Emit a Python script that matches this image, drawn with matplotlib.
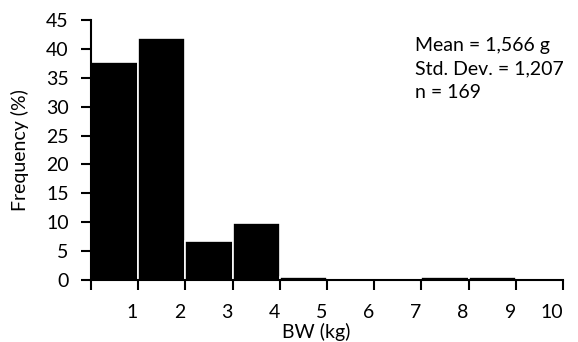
import numpy as np
import matplotlib
matplotlib.use('Agg')
import matplotlib.pyplot as plt
import matplotlib.transforms as mtransforms

# birth weight histogram, 1 kg bins
bin_edges = [0, 1, 2, 3, 4, 5, 6, 7, 8, 9, 10]
freq_pct = [37.8, 41.8, 6.8, 9.8, 0.6, 0.0, 0.0, 0.6, 0.6, 0.0]
x_ticks = [0, 1, 2, 3, 4, 5, 6, 7, 8, 9, 10]
x_labels = ['', '1', '2', '3', '4', '5', '6', '7', '8', '9', '10']
y_ticks = [0, 5, 10, 15, 20, 25, 30, 35, 40, 45]
stats_lines = ['Mean = 1,566 g', 'Std. Dev. = 1,207', 'n = 169']

plt.rcParams['font.family'] = ['Lato', 'DejaVu Sans']
FS = 14

fig = plt.figure(figsize=(5.78, 3.42), dpi=100)
ax = fig.add_axes([91/578, 1 - 280/342, (563 - 91)/578, 260/342])

lefts = np.array(bin_edges[:-1])
widths = np.diff(bin_edges)
ax.bar(lefts, freq_pct, width=widths, align='edge', color='black',
       edgecolor='white', linewidth=1.2)

ax.set_xlim(0, 10)
ax.set_ylim(0, 45)
ax.set_xticks(x_ticks)
ax.set_xticklabels(x_labels, ha='right')
ax.set_yticks(y_ticks)

offset = mtransforms.ScaledTranslation(-2/100, 0, fig.dpi_scale_trans)
for lbl in ax.get_xticklabels():
    lbl.set_transform(lbl.get_transform() + offset)

for side in ['top', 'right']:
    ax.spines[side].set_visible(False)
for side in ['left', 'bottom']:
    ax.spines[side].set_linewidth(1.5)
    ax.spines[side].set_zorder(3)

ax.tick_params(axis='both', direction='out', length=7, width=1.5,
               labelsize=FS, colors='black')
ax.tick_params(axis='x', pad=10)
ax.tick_params(axis='y', pad=9)

fig.text(20/578, 1 - 150/342, 'Frequency (%)', fontsize=FS, rotation=90,
         ha='center', va='center')
fig.text(316/578, 1 - 332/342, 'BW (kg)', fontsize=FS,
         ha='center', va='center')

for i, line in enumerate(stats_lines):
    fig.text(415/578, 1 - (46 + 23*i)/342, line, fontsize=FS,
             ha='left', va='center')

fig.savefig('out.png', dpi=100)
